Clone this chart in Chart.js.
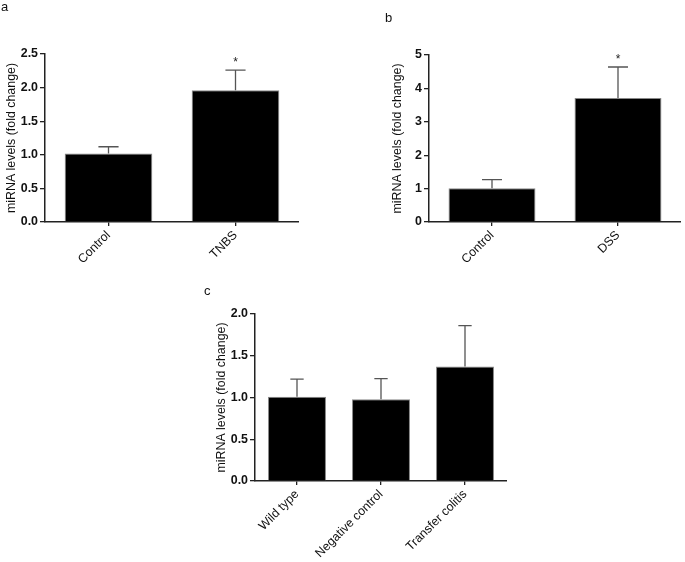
<!DOCTYPE html>
<html>
<head>
<meta charset="utf-8">
<script src="https://cdn.jsdelivr.net/npm/chart.js@4.4.1/dist/chart.umd.min.js"></script>
<style>
  html, body { margin: 0; padding: 0; background: #fff; }
  #wrap { position: relative; width: 685px; height: 562px; overflow: hidden; background: #fff; }
  canvas { position: absolute; }
  .lbl { position: absolute; font-family: "Liberation Sans", Arial, sans-serif; font-size: 13px; line-height: 13px; color: #111; }
</style>
</head>
<body>
<div id="wrap">
  <canvas id="ca" width="299" height="300" style="left:0px;top:0px;"></canvas>
  <canvas id="cb" width="295" height="300" style="left:386px;top:0px;"></canvas>
  <canvas id="cc" width="297" height="302" style="left:210px;top:260px;"></canvas>
  <div class="lbl" style="left:1px;top:0px;">a</div>
  <div class="lbl" style="left:385px;top:11px;">b</div>
  <div class="lbl" style="left:204px;top:284px;">c</div>
</div>
<script>
// ---- Data ----
const catsA = ['Control', 'TNBS'];
const valsA = [1.02, 1.96];
const errA  = [0.10, 0.30];
const sigA  = ['', '*'];

const catsB = ['Control', 'DSS'];
const valsB = [1.01, 3.71];
const errB  = [0.26, 0.93];
const sigB  = ['', '*'];

const catsC = ['Wild type', 'Negative control', 'Transfer colitis'];
const valsC = [1.01, 0.98, 1.37];
const errC  = [0.21, 0.245, 0.49];
const sigC  = ['', '', ''];

const yTitle = 'miRNA levels (fold change)';

const FONT = '"Liberation Sans", Arial, sans-serif';

const errorBarPlugin = {
  id: 'errbars',
  afterDatasetsDraw(chart) {
    const ctx = chart.ctx;
    const meta = chart.getDatasetMeta(0);
    const y = chart.scales.y;
    const ds = chart.data.datasets[0];
    meta.data.forEach((bar, i) => {
      const v = ds.data[i], e = ds.errors[i];
      const yTop = y.getPixelForValue(v + e);
      const yBar = y.getPixelForValue(v);
      const cap = bar.width * 0.23;
      ctx.save();
      ctx.strokeStyle = '#555';
      ctx.lineWidth = 1.3;
      ctx.beginPath();
      ctx.moveTo(bar.x, yBar);
      ctx.lineTo(bar.x, yTop);
      ctx.moveTo(bar.x - cap / 2, yTop);
      ctx.lineTo(bar.x + cap / 2, yTop);
      ctx.stroke();
      if (ds.sig && ds.sig[i]) {
        ctx.fillStyle = '#222';
        ctx.font = '12px ' + FONT;
        ctx.textAlign = 'center';
        ctx.textBaseline = 'alphabetic';
        ctx.fillText(ds.sig[i], bar.x, yTop - 4.5);
      }
      ctx.restore();
    });
  }
};

function makeChart(id, cats, vals, errs, sigs, yMax, step, decimals, yWidth, xHeight, padTop) {
  return new Chart(document.getElementById(id), {
    type: 'bar',
    data: {
      labels: cats,
      datasets: [{
        data: vals,
        errors: errs,
        sig: sigs,
        backgroundColor: '#000',
        borderColor: '#888',
        borderWidth: 1,
        categoryPercentage: 1,
        barPercentage: 0.69
      }]
    },
    options: {
      responsive: false,
      devicePixelRatio: 1,
      animation: false,
      layout: { padding: { top: padTop, left: 0, right: 0, bottom: 0 } },
      plugins: { legend: { display: false }, tooltip: { enabled: false } },
      scales: {
        x: {
          grid: { display: true, drawOnChartArea: false, drawTicks: true, tickLength: 4, offset: false, color: '#222', lineWidth: 1.3 },
          border: { display: true, color: '#222', width: 1.5 },
          ticks: { minRotation: 45, maxRotation: 45, autoSkip: false, padding: 2, color: '#111', font: { family: FONT, size: 12.4 } },
          afterFit(s) { s.height = xHeight; s.paddingLeft = 0; s.paddingRight = 0; }
        },
        y: {
          min: 0, max: yMax,
          grid: { display: true, drawOnChartArea: false, drawTicks: true, tickLength: 5, color: '#222', lineWidth: 1.3 },
          border: { display: true, color: '#222', width: 1.5 },
          ticks: { stepSize: step, padding: 2, color: '#111', font: { family: FONT, size: 12.4, weight: 'bold' },
                   callback: (v) => Number(v).toFixed(decimals) },
          title: { display: true, text: yTitle, color: '#111', font: { family: FONT, size: 12.4 }, padding: { top: 4, bottom: 0 } },
          afterFit(s) { s.width = yWidth; s.paddingTop = 0; s.paddingBottom = 0; }
        }
      }
    },
    plugins: [errorBarPlugin]
  });
}

makeChart('ca', catsA, valsA, errA, sigA, 2.5, 0.5, 1, 45, 78, 54);
makeChart('cb', catsB, valsB, errB, sigB, 5, 1, 0, 43, 78, 55);
makeChart('cc', catsC, valsC, errC, sigC, 2.0, 0.5, 1, 45, 81, 54);
</script>
</body>
</html>
